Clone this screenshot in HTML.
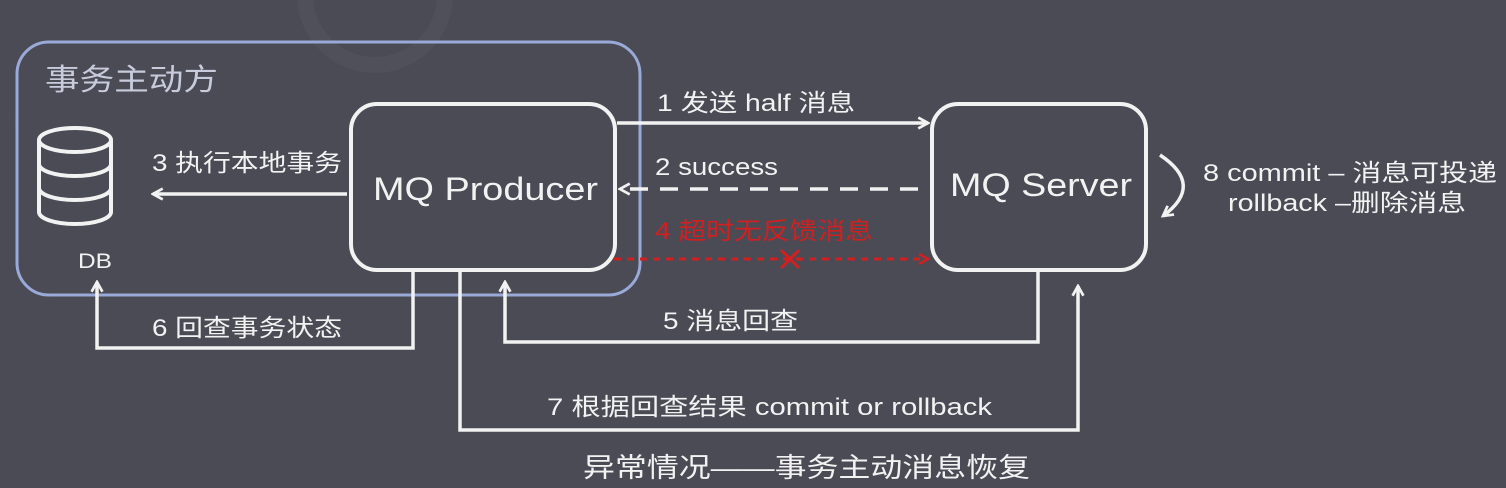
<!DOCTYPE html>
<html><head><meta charset="utf-8"><style>
html,body{margin:0;padding:0;background:#4a4b55;}
svg{display:block}
text{font-family:"Liberation Sans","Noto Sans CJK SC",sans-serif;fill:#f2f2f2}
</style></head><body>
<svg width="1506" height="488" viewBox="0 0 1506 488" xmlns="http://www.w3.org/2000/svg">
<rect width="1506" height="488" fill="#4a4b55"/>
<circle cx="375" cy="-5" r="70" fill="none" stroke="#4f505a" stroke-width="16"/>
<defs>
<marker id="a" viewBox="0 0 12 12" refX="10" refY="6" markerWidth="13" markerHeight="13" markerUnits="userSpaceOnUse" orient="auto"><path d="M1 1 L10 6 L1 11" fill="none" stroke="#f2f2f2" stroke-width="2.5"/></marker>
<marker id="r" viewBox="0 0 12 12" refX="10" refY="6" markerWidth="12" markerHeight="12" markerUnits="userSpaceOnUse" orient="auto"><path d="M1 1 L10 6 L1 11" fill="none" stroke="#d02020" stroke-width="2.5"/></marker>
</defs>
<rect x="17" y="42" width="623" height="253" rx="32" fill="none" stroke="#9aaad8" stroke-width="3"/>
<text x="45" y="90" font-size="30" textLength="173" lengthAdjust="spacingAndGlyphs" style="fill:#c7cbdc">事务主动方</text>
<!-- DB -->
<g fill="none" stroke="#f2f2f2" stroke-width="4">
<ellipse cx="75" cy="140" rx="36" ry="12"/>
<path d="M39 140 V212 A36 12 0 0 0 111 212 V140"/>
<path d="M39 164 A36 12 0 0 0 111 164"/>
<path d="M39 188 A36 12 0 0 0 111 188"/>
</g>
<text x="78" y="268" font-size="21" textLength="34" lengthAdjust="spacingAndGlyphs">DB</text>
<!-- boxes -->
<rect x="351" y="104" width="264" height="166" rx="26" fill="none" stroke="#f2f2f2" stroke-width="4"/>
<text x="373" y="200" font-size="32" textLength="225" lengthAdjust="spacingAndGlyphs">MQ Producer</text>
<rect x="932" y="104" width="214" height="166" rx="26" fill="none" stroke="#f2f2f2" stroke-width="4"/>
<text x="950" y="196" font-size="32" textLength="182" lengthAdjust="spacingAndGlyphs">MQ Server</text>
<!-- arrows -->
<g stroke="#f2f2f2" stroke-width="3.5" fill="none">
<line x1="617" y1="123" x2="928" y2="123" marker-end="url(#a)"/>
<line x1="918" y1="189" x2="620" y2="189" stroke-dasharray="18 12" marker-end="url(#a)"/>
<line x1="347" y1="194" x2="153" y2="194" marker-end="url(#a)"/>
<polyline points="413,272 413,348 97,348 97,282" marker-end="url(#a)"/>
<polyline points="1038,272 1038,342 505,342 505,282" marker-end="url(#a)"/>
<polyline points="460,272 460,430 1078,430 1078,286" marker-end="url(#a)"/>
<path d="M1160 155 Q1205 185 1163 216" marker-end="url(#a)"/>
</g>
<line x1="614" y1="259" x2="928" y2="259" stroke="#d02020" stroke-width="3" stroke-dasharray="7 6" marker-end="url(#r)"/>
<path d="M781 250 L799 268 M799 250 L781 268" stroke="#d02020" stroke-width="3"/>
<text x="657" y="111" font-size="24" textLength="198" lengthAdjust="spacingAndGlyphs">1 发送 half 消息</text>
<text x="655" y="175" font-size="24" textLength="123" lengthAdjust="spacingAndGlyphs">2 success</text>
<text x="655" y="239" font-size="24" textLength="218" lengthAdjust="spacingAndGlyphs" style="fill:#d02020">4 超时无反馈消息</text>
<text x="152" y="171" font-size="24" textLength="190" lengthAdjust="spacingAndGlyphs">3 执行本地事务</text>
<text x="152" y="336" font-size="24" textLength="190" lengthAdjust="spacingAndGlyphs">6 回查事务状态</text>
<text x="663" y="329" font-size="24" textLength="135" lengthAdjust="spacingAndGlyphs">5 消息回查</text>
<text x="547" y="415" font-size="24" textLength="445" lengthAdjust="spacingAndGlyphs">7 根据回查结果 commit or rollback</text>
<text x="1203" y="181" font-size="24" textLength="294" lengthAdjust="spacingAndGlyphs">8 commit – 消息可投递</text>
<text x="1228" y="211" font-size="24" textLength="238" lengthAdjust="spacingAndGlyphs">rollback –删除消息</text>
<text x="583" y="477" font-size="27" textLength="447" lengthAdjust="spacingAndGlyphs">异常情况——事务主动消息恢复</text>
</svg>
</body></html>
